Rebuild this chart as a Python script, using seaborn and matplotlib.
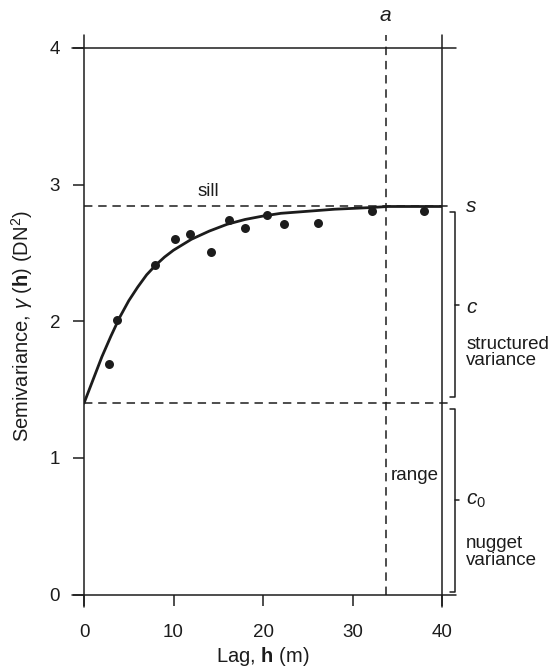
import matplotlib
matplotlib.use("Agg")
import matplotlib.pyplot as plt
import seaborn as sns

# Experimental semivariogram (lag in m, semivariance in DN^2)
lag_obs = [2.8, 3.7, 7.9, 10.2, 11.8, 14.2, 16.2, 18.0, 20.5, 22.4, 26.2, 32.2, 38.0]
gamma_obs = [1.69, 2.01, 2.41, 2.60, 2.64, 2.51, 2.74, 2.68, 2.78, 2.71, 2.72, 2.81, 2.81]

# Fitted model curve
lag_model = [0, 1, 2, 3, 4, 5, 6, 7, 8, 9, 10, 12, 14, 16, 18, 20, 22, 24, 26,
             28, 30, 32, 34, 36, 38, 40]
gamma_model = [1.40, 1.57, 1.74, 1.89, 2.03, 2.15, 2.25, 2.34, 2.41, 2.47, 2.52,
               2.60, 2.66, 2.71, 2.745, 2.77, 2.79, 2.80, 2.81, 2.82, 2.826, 2.832,
               2.84, 2.84, 2.84, 2.84]

nugget = 1.40
sill = 2.84
range_a = 33.7

x_ticks = [0, 10, 20, 30, 40]
y_ticks = [0, 1, 2, 3, 4]

sns.set_theme(style="white")
plt.rcParams['font.family'] = ['Liberation Sans', 'DejaVu Sans']
plt.rcParams['mathtext.fontset'] = 'custom'
plt.rcParams['mathtext.rm'] = 'Liberation Sans'
plt.rcParams['mathtext.it'] = 'Liberation Sans:italic'
plt.rcParams['mathtext.bf'] = 'Liberation Sans:bold'

ink = '#1c1c1c'
W, H = 548, 671
fig = plt.figure(figsize=(W / 100, H / 100), dpi=100)
fig.patch.set_facecolor('white')
ax = fig.add_axes([84 / W, 1 - 594.5 / H, 358 / W, 546.5 / H])
ax.set_xlim(0, 40)
ax.set_ylim(0, 4)
for sp in ax.spines.values():
    sp.set_visible(False)

lw = 1.1
dash = (0, (5.5, 3.8))

# frame lines extending past the plotting area
ax.plot([-1.35, 41.55], [0, 0], color=ink, lw=lw, clip_on=False)
ax.plot([-1.35, 41.55], [4, 4], color=ink, lw=lw, clip_on=False)
ax.plot([0, 0], [-0.09, 4.095], color=ink, lw=lw, clip_on=False)
ax.plot([40, 40], [-0.09, 4.095], color=ink, lw=lw, clip_on=False)

# sill, nugget and range reference lines
ax.plot([0, 41.2], [sill, sill], color=ink, lw=lw, ls=dash, clip_on=False)
ax.plot([0, 41.2], [nugget, nugget], color=ink, lw=lw, ls=dash, clip_on=False)
ax.plot([range_a, range_a], [0, 4.095], color=ink, lw=lw, ls=dash, clip_on=False)

# model and observations
sns.lineplot(x=lag_model, y=gamma_model, color=ink, lw=2.0, estimator=None,
             sort=False, ax=ax, zorder=3)
sns.scatterplot(x=lag_obs, y=gamma_obs, color=ink, s=42, linewidth=0, ax=ax,
                zorder=4, clip_on=False)

# brackets for structured and nugget variance
bx, hx, tx = 41.45, 40.85, 41.9
for top, bot in [(2.80, 1.445), (1.36, 0.02)]:
    ax.plot([hx, bx, bx, hx], [top, top, bot, bot], color=ink, lw=lw, clip_on=False)
    mid = (top + bot) / 2
    ax.plot([bx, tx], [mid, mid], color=ink, lw=lw, clip_on=False)

ax.set_xticks(x_ticks)
ax.set_yticks(y_ticks)
ax.tick_params(axis='both', which='major', direction='out', length=8.2,
               width=lw, color=ink, labelcolor=ink, labelsize=13.5,
               bottom=True, left=True)
ax.tick_params(axis='x', pad=13)
ax.tick_params(axis='y', pad=9)

fs = 13.5
ax.text(13.9, 2.95, 'sill', fontsize=fs, color=ink, ha='center', va='center')
ax.text(34.3, 0.87, 'range', fontsize=fs, color=ink, ha='left', va='center')
ax.text(range_a, 4.24, 'a', fontsize=15, style='italic', color=ink,
        ha='center', va='center', clip_on=False)
ax.text(42.7, sill, 's', fontsize=15, style='italic', color=ink,
        ha='left', va='center', clip_on=False)
ax.text(42.7, 2.10, 'c', fontsize=15, style='italic', color=ink,
        ha='left', va='center', clip_on=False)
ax.text(42.7, 1.77, 'structured\nvariance', fontsize=fs, color=ink, ha='left',
        va='center', linespacing=0.95, clip_on=False)
ax.text(42.7, 0.69, '$c_0$', fontsize=15, color=ink, ha='left', va='center',
        clip_on=False)
ax.text(42.7, 0.31, 'nugget\nvariance', fontsize=fs, color=ink, ha='left',
        va='center', linespacing=0.95, clip_on=False)

fig.text(263 / W, 1 - 656 / H, r'Lag, $\mathbf{h}$ (m)', fontsize=14.5,
         color=ink, ha='center', va='center')
fig.text(22 / W, 1 - 326 / H, r'Semivariance, $\gamma$ ($\mathbf{h}$) (DN$^2$)',
         fontsize=14.5, color=ink, ha='center', va='center', rotation=90)

fig.savefig('out.png', dpi=100, facecolor='white')
